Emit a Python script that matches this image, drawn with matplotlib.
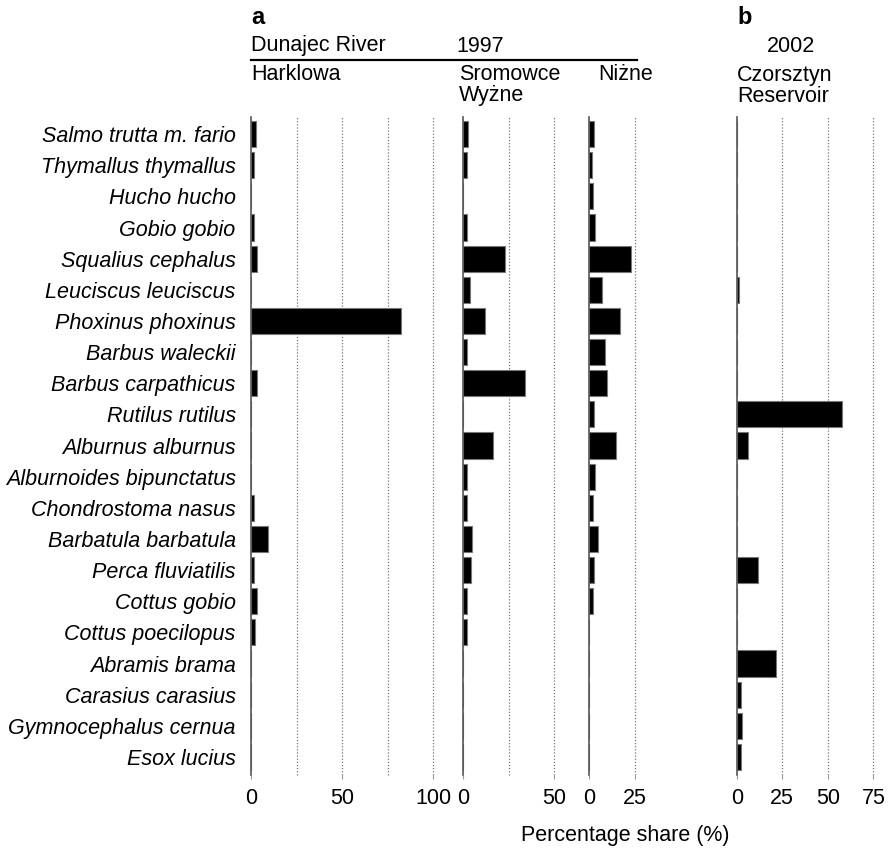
import numpy as np
import matplotlib
matplotlib.use("Agg")
import matplotlib.pyplot as plt

plt.rcParams['font.family'] = ['Liberation Sans', 'DejaVu Sans']

# species (top to bottom)
species = ["Salmo trutta m. fario", "Thymallus thymallus", "Hucho hucho", "Gobio gobio",
           "Squalius cephalus", "Leuciscus leuciscus", "Phoxinus phoxinus", "Barbus waleckii",
           "Barbus carpathicus", "Rutilus rutilus", "Alburnus alburnus", "Alburnoides bipunctatus",
           "Chondrostoma nasus", "Barbatula barbatula", "Perca fluviatilis", "Cottus gobio",
           "Cottus poecilopus", "Abramis brama", "Carasius carasius", "Gymnocephalus cernua",
           "Esox lucius"]

# percentage share, Dunajec River 1997
harklowa = [2.7, 1.6, 0, 1.6, 3.1, 0, 82.4, 0, 3.3, 0, 0, 0, 1.8, 9.1, 1.8, 3.1, 2.0, 0, 0, 0, 0]
sromowce = [2.7, 2.0, 0, 2.0, 23.0, 3.5, 12.1, 2.0, 33.6, 0, 16.3, 2.0, 2.2, 4.9, 4.4, 2.0, 2.2, 0, 0, 0, 0]
nizne = [2.9, 1.8, 2.0, 3.2, 22.9, 7.1, 16.8, 8.6, 9.6, 2.7, 15.0, 3.2, 2.0, 4.8, 2.5, 2.0, 0, 0, 0, 0, 0]
# Czorsztyn Reservoir 2002
czorsztyn = [0, 0, 0, 0, 0, 1.5, 0, 0, 0, 58.0, 6.0, 0, 0, 0, 11.6, 0, 0, 21.6, 2.2, 2.7, 2.2]

W, H = 891, 850
FS = 15.5
fig = plt.figure(figsize=(W / 100, H / 100), dpi=100)

top, bottom = 117, 775
px_per_unit = 1.823

panels = [
    # values, left px, xmax, labelled ticks, grid lines
    (harklowa, 251, 100, [0, 50, 100], [25, 50, 75, 100]),
    (sromowce, 463.3, 50, [0, 50], [25, 50]),
    (nizne, 589, 25, [0, 25], [25]),
    (czorsztyn, 736.7, 75, [0, 25, 50, 75], [25, 50, 75]),
]

y = np.arange(len(species))
axes = []
for i, (vals, left, xmax, ticks, grid) in enumerate(panels):
    width = xmax * px_per_unit
    ax = fig.add_axes([left / W, 1 - bottom / H, width / W, (bottom - top) / H])
    ax.barh(y, vals, height=0.84, color='black', edgecolor='#777777', linewidth=0.8, zorder=3)
    for g in grid:
        ax.axvline(g, color='#777777', linestyle=(0, (1, 1.5)), linewidth=0.9, zorder=1, clip_on=False)
    ax.set_xlim(0, xmax)
    ax.set_ylim(20.58, -0.55)
    ax.set_xticks(ticks)
    ax.set_xticklabels([str(t) for t in ticks], fontsize=FS)
    ax.tick_params(axis='x', length=3, color='#999999', pad=6)
    for s in ['top', 'right', 'bottom']:
        ax.spines[s].set_visible(False)
    ax.spines['left'].set_color('#555555')
    ax.spines['left'].set_linewidth(1.2)
    ax.spines['left'].set_zorder(4)
    if i == 0:
        ax.set_yticks(y)
        ax.set_yticklabels(species, fontsize=FS, style='italic')
        ax.tick_params(axis='y', length=0, pad=11)
    else:
        ax.set_yticks([])
    axes.append(ax)

def txt(x, yy, s, size=FS, **kw):
    fig.text(x / W, 1 - yy / H, s, va='center', ha='left', fontsize=size, **kw)

txt(251, 17, "a", size=17, fontweight='bold')
txt(251, 46, "Dunajec River")
txt(456, 46, "1997")
fig.add_artist(plt.Line2D([251 / W, 637 / W], [1 - 60 / H, 1 - 60 / H], color='black', linewidth=1.6))
txt(251, 75, "Harklowa")
txt(459, 75, "Sromowce")
txt(459, 96, "Wyżne")
txt(598, 75, "Niżne")

txt(737, 17, "b", size=17, fontweight='bold')
txt(767, 46, "2002")
txt(737, 75, "Czorsztyn")
txt(737, 96, "Reservoir")

fig.text(625 / W, 1 - 835 / H, "Percentage share (%)", ha='center', va='center', fontsize=FS)

fig.savefig("out.png", dpi=100)
